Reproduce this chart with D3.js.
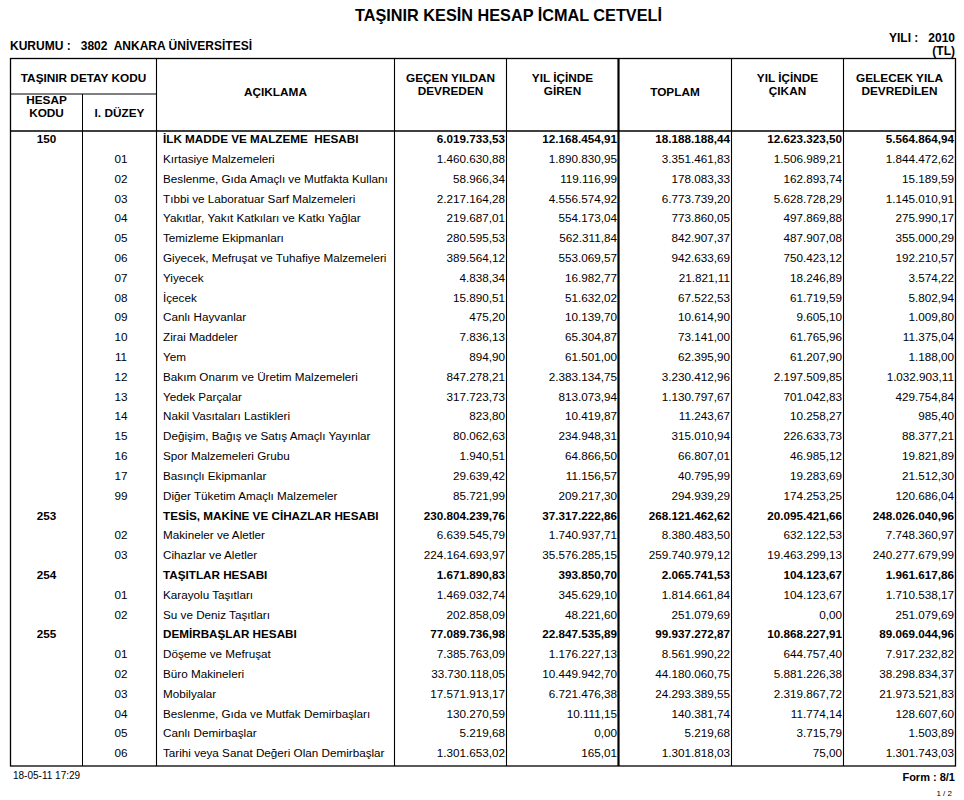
<!DOCTYPE html>
<html>
<head>
<meta charset="utf-8">
<script src="https://cdn.jsdelivr.net/npm/d3@7"></script>
<style>
  body { margin: 0; background: #fff; }
  svg { display: block; font-family: "Liberation Sans", Arial, sans-serif; }
  .narrow { font-family: "Liberation Sans Narrow", "Liberation Sans", Arial, sans-serif; font-weight: bold; }
</style>
</head>
<body>
<svg id="sheet"></svg>
<script>
// icmal cetveli 2010

var hesapKodu = [
    "150", "", "", "", "", "", "", "", "", "", "", "", "", "", "", "", "", "", "",
    "253", "", "",
    "254", "", "",
    "255", "", "", "", "", "", ""
];
var duzeyKodu = [
    "", "01", "02", "03", "04", "05", "06", "07", "08", "09", "10", "11", "12", "13", "14", "15", "16", "17", "99",
    "", "02", "03",
    "", "01", "02",
    "", "01", "02", "03", "04", "05", "06"
];
var aciklama = [
    "İLK MADDE VE MALZEME  HESABI", "Kırtasiye Malzemeleri", "Beslenme, Gıda Amaçlı ve Mutfakta Kullanı",
    "Tıbbi ve Laboratuar Sarf Malzemeleri", "Yakıtlar, Yakıt Katkıları ve Katkı Yağlar", "Temizleme Ekipmanları",
    "Giyecek, Mefruşat ve Tuhafiye Malzemeleri", "Yiyecek", "İçecek", "Canlı Hayvanlar", "Zirai Maddeler", "Yem",
    "Bakım Onarım ve Üretim Malzemeleri", "Yedek Parçalar", "Nakil Vasıtaları Lastikleri",
    "Değişim, Bağış ve Satış Amaçlı Yayınlar", "Spor Malzemeleri Grubu", "Basınçlı Ekipmanlar",
    "Diğer Tüketim Amaçlı Malzemeler",
    "TESİS, MAKİNE VE CİHAZLAR HESABI", "Makineler ve Aletler", "Cihazlar ve Aletler",
    "TAŞITLAR HESABI", "Karayolu Taşıtları", "Su ve Deniz Taşıtları",
    "DEMİRBAŞLAR HESABI", "Döşeme ve Mefruşat", "Büro Makineleri", "Mobilyalar",
    "Beslenme, Gıda ve Mutfak Demirbaşları", "Canlı Demirbaşlar", "Tarihi veya Sanat Değeri Olan Demirbaşlar"
];
var gecenYildan = [
    6019733.53, 1460630.88, 58966.34, 2217164.28, 219687.01, 280595.53, 389564.12, 4838.34, 15890.51, 475.20,
    7836.13, 894.90, 847278.21, 317723.73, 823.80, 80062.63, 1940.51, 29639.42, 85721.99,
    230804239.76, 6639545.79, 224164693.97,
    1671890.83, 1469032.74, 202858.09,
    77089736.98, 7385763.09, 33730118.05, 17571913.17, 130270.59, 5219.68, 1301653.02
];
var yilIcindeGiren = [
    12168454.91, 1890830.95, 119116.99, 4556574.92, 554173.04, 562311.84, 553069.57, 16982.77, 51632.02, 10139.70,
    65304.87, 61501.00, 2383134.75, 813073.94, 10419.87, 234948.31, 64866.50, 11156.57, 209217.30,
    37317222.86, 1740937.71, 35576285.15,
    393850.70, 345629.10, 48221.60,
    22847535.89, 1176227.13, 10449942.70, 6721476.38, 10111.15, 0.00, 165.01
];
var toplam = [
    18188188.44, 3351461.83, 178083.33, 6773739.20, 773860.05, 842907.37, 942633.69, 21821.11, 67522.53, 10614.90,
    73141.00, 62395.90, 3230412.96, 1130797.67, 11243.67, 315010.94, 66807.01, 40795.99, 294939.29,
    268121462.62, 8380483.50, 259740979.12,
    2065741.53, 1814661.84, 251079.69,
    99937272.87, 8561990.22, 44180060.75, 24293389.55, 140381.74, 5219.68, 1301818.03
];
var yilIcindeCikan = [
    12623323.50, 1506989.21, 162893.74, 5628728.29, 497869.88, 487907.08, 750423.12, 18246.89, 61719.59, 9605.10,
    61765.96, 61207.90, 2197509.85, 701042.83, 10258.27, 226633.73, 46985.12, 19283.69, 174253.25,
    20095421.66, 632122.53, 19463299.13,
    104123.67, 104123.67, 0.00,
    10868227.91, 644757.40, 5881226.38, 2319867.72, 11774.14, 3715.79, 75.00
];
var gelecekYila = [
    5564864.94, 1844472.62, 15189.59, 1145010.91, 275990.17, 355000.29, 192210.57, 3574.22, 5802.94, 1009.80,
    11375.04, 1188.00, 1032903.11, 429754.84, 985.40, 88377.21, 19821.89, 21512.30, 120686.04,
    248026040.96, 7748360.97, 240277679.99,
    1961617.86, 1710538.17, 251079.69,
    89069044.96, 7917232.82, 38298834.37, 21973521.83, 128607.60, 1503.89, 1301743.03
];
var sutunBasliklari = [
    ["GEÇEN YILDAN", "DEVREDEN"],
    ["YIL İÇİNDE", "GİREN"],
    ["TOPLAM"],
    ["YIL İÇİNDE", "ÇIKAN"],
    ["GELECEK YILA", "DEVREDİLEN"]
];

const W = 964, H = 800,
    tblLeft = 10.5, tblRight = 955.5,
    tblTop = 58.5, headBottom = 131, tblBottom = 766;

// column edges
var colX = [tblLeft, 82.5, 156.5, 394.5, 506.5, 618.5, 731.5, 843.5, tblRight];
var numCols = [gecenYildan, yilIcindeGiren, toplam, yilIcindeCikan, gelecekYila];

var tr = d3.formatLocale({decimal: ",", thousands: ".", grouping: [3], currency: ["", ""]});
var fmt = tr.format(",.2f");

var svg = d3.select("#sheet").attr("width", W).attr("height", H);

var rowScale = d3.scaleBand()
    .domain(d3.range(aciklama.length))
    .range([129, 763]);

// title + header lines
svg.append("text").attr("class", "narrow")
    .attr("x", 355).attr("y", 21)
    .attr("font-size", 17)
    .attr("textLength", 307).attr("lengthAdjust", "spacingAndGlyphs")
    .text("TAŞINIR KESİN HESAP İCMAL CETVELİ");
svg.append("text").attr("class", "narrow")
    .attr("x", 10).attr("y", 50).attr("font-size", 12)
    .attr("textLength", 242).attr("lengthAdjust", "spacingAndGlyphs")
    .attr("xml:space", "preserve")
    .text("KURUMU :   3802  ANKARA ÜNİVERSİTESİ");
svg.append("text").attr("class", "narrow")
    .attr("x", 955).attr("y", 42).attr("font-size", 12)
    .attr("text-anchor", "end")
    .attr("xml:space", "preserve")
    .text("YILI :   2010");
svg.append("text").attr("class", "narrow")
    .attr("x", 955).attr("y", 55).attr("font-size", 12)
    .attr("text-anchor", "end")
    .text("(TL)");

// grid
var grid = svg.append("g").attr("stroke", "#000").attr("fill", "none");
grid.append("rect")
    .attr("x", tblLeft).attr("y", tblTop)
    .attr("width", tblRight - tblLeft).attr("height", tblBottom - tblTop)
    .attr("stroke-width", 1.3);
grid.append("line")
    .attr("x1", tblLeft).attr("x2", tblRight)
    .attr("y1", headBottom).attr("y2", headBottom)
    .attr("stroke-width", 1.3);
grid.append("line")
    .attr("x1", tblLeft).attr("x2", colX[2])
    .attr("y1", 94).attr("y2", 94);
grid.append("line")
    .attr("x1", colX[1]).attr("x2", colX[1])
    .attr("y1", 94).attr("y2", tblBottom);
grid.selectAll(".vline")
    .data(colX.slice(2, 8))
    .enter()
    .append("line")
    .attr("x1", function(d) {return d;})
    .attr("x2", function(d) {return d;})
    .attr("y1", tblTop).attr("y2", tblBottom)
    .attr("stroke-width", function(d, i) {return i === 3 ? 2.2 : 1.1;});

// column headers
var head = svg.append("g").attr("font-weight", "bold").attr("font-size", 11.8)
    .attr("text-anchor", "middle");
head.append("text").attr("x", (colX[0] + colX[2]) / 2).attr("y", 82).text("TAŞINIR DETAY KODU");
head.append("text").attr("x", (colX[0] + colX[1]) / 2).attr("y", 104).text("HESAP");
head.append("text").attr("x", (colX[0] + colX[1]) / 2).attr("y", 117).text("KODU");
head.append("text").attr("x", (colX[1] + colX[2]) / 2).attr("y", 117).text("I. DÜZEY");
head.append("text").attr("x", (colX[2] + colX[3]) / 2).attr("y", 96).text("AÇIKLAMA");

sutunBasliklari.forEach(function(lines, c) {
    var cx = (colX[c + 3] + colX[c + 4]) / 2;
    lines.forEach(function(t, j) {
        head.append("text")
            .attr("x", cx)
            .attr("y", lines.length === 1 ? 96 : 82 + j * 13)
            .text(t);
    });
});

// body rows
var rows = svg.append("g").attr("font-size", 11.7)
    .selectAll("g.row")
    .data(aciklama)
    .enter()
    .append("g")
    .attr("class", "row")
    .attr("transform", function(d, i) {
        return "translate(0," + (rowScale(i) + rowScale.bandwidth() / 2 + 4.2) + ")";
    })
    .attr("font-weight", function(d, i) {return hesapKodu[i] ? "bold" : "normal";});

rows.append("text")
    .attr("x", (colX[0] + colX[1]) / 2)
    .attr("text-anchor", "middle")
    .text(function(d, i) {return hesapKodu[i];});
rows.append("text")
    .attr("x", 121)
    .attr("text-anchor", "middle")
    .text(function(d, i) {return duzeyKodu[i];});
rows.append("text")
    .attr("x", 163)
    .attr("xml:space", "preserve")
    .text(function(d) {return d;});

numCols.forEach(function(series, c) {
    rows.append("text")
        .attr("x", colX[c + 4] - 1.5)
        .attr("text-anchor", "end")
        .text(function(d, i) {return fmt(series[i]);});
});

// footer
svg.append("text").attr("x", 13).attr("y", 779).attr("font-size", 10).text("18-05-11 17:29");
svg.append("text").attr("x", 955).attr("y", 781).attr("font-size", 11)
    .attr("font-weight", "bold").attr("text-anchor", "end").text("Form : 8/1");
svg.append("text").attr("x", 952).attr("y", 796).attr("font-size", 8)
    .attr("text-anchor", "end").text("1 / 2");
</script>
</body>
</html>
